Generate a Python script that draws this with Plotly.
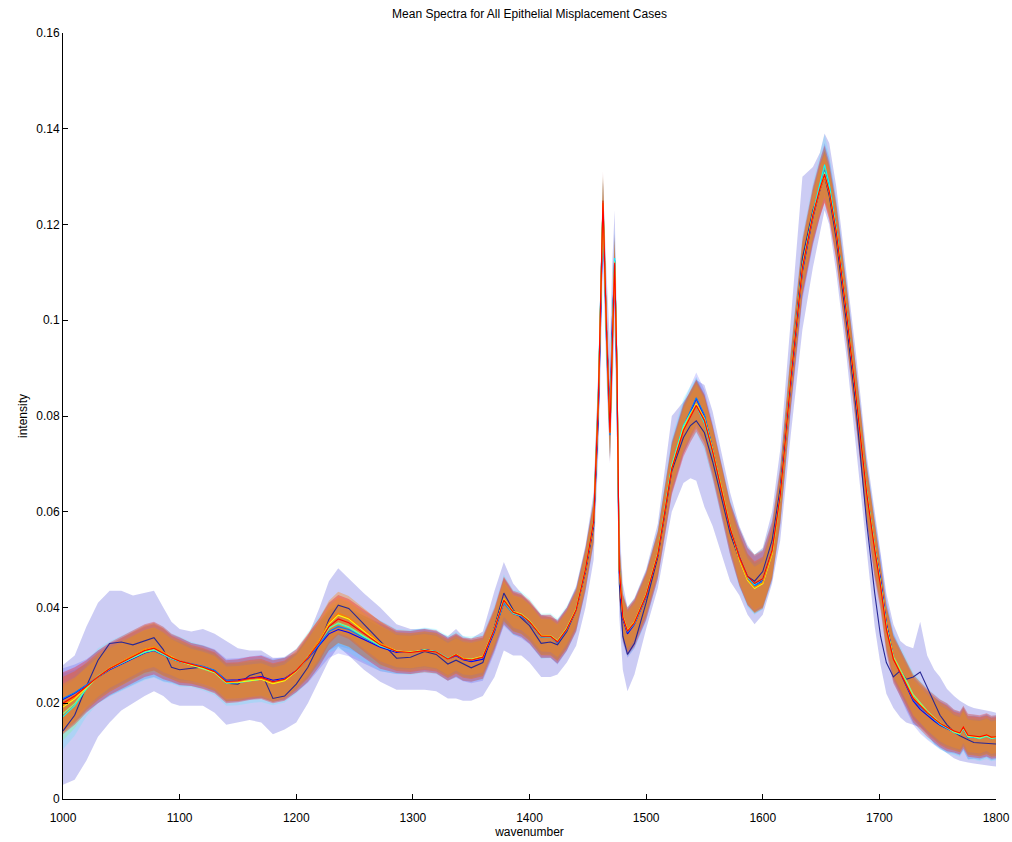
import plotly.graph_objects as go

# Wavenumber sampling (cm^-1); denser around the sharp 1460-1480 doublet
WAVENUMBER = [
    1000, 1010, 1020,
    1030, 1040, 1050, 1060, 1070, 1078, 1086, 1093, 1100,
    1110, 1120, 1130, 1140, 1150, 1160, 1170, 1180, 1190, 1200,
    1210, 1220, 1228, 1236, 1245, 1258, 1272,
    1286, 1298, 1310, 1320, 1330, 1337, 1343, 1350, 1360,
    1370, 1378, 1386, 1393, 1400, 1410, 1418, 1424, 1432, 1440, 1448, 1455,
    1459, 1461, 1463, 1466, 1469, 1471, 1473, 1475, 1477,
    1480, 1484, 1490, 1500, 1510,
    1522, 1532, 1538, 1543, 1550, 1557, 1565, 1572,
    1580, 1587, 1593, 1600, 1608, 1615,
    1624, 1634, 1643, 1649, 1653, 1657, 1663, 1672, 1680, 1689, 1696,
    1701, 1706, 1712, 1718, 1723, 1729, 1735, 1741, 1747, 1752, 1758,
    1764, 1769, 1772, 1776, 1781, 1786, 1792, 1796, 1800,
]

# Mean spectrum of the red case (reference level for the other cases)
MEAN_RED = [
    0.0200, 0.0215, 0.0235,
    0.0255, 0.0272, 0.0285, 0.0298, 0.0310, 0.0315, 0.0305, 0.0295, 0.0288,
    0.0281, 0.0275, 0.0266, 0.0245, 0.0247, 0.0252, 0.0254, 0.0245, 0.0250, 0.0268,
    0.0295, 0.0328, 0.0360, 0.0376, 0.0368, 0.0345, 0.0322,
    0.0308, 0.0306, 0.0310, 0.0307, 0.0292, 0.0301, 0.0292, 0.0290, 0.0296,
    0.0355, 0.0415, 0.0390, 0.0384, 0.0370, 0.0340, 0.0340, 0.0328, 0.0355, 0.0395, 0.0480, 0.0580,
    0.0830, 0.1040, 0.1250, 0.0980, 0.0765, 0.0950, 0.1120, 0.0900, 0.0480,
    0.0380, 0.0350, 0.0368, 0.0425, 0.0510,
    0.0690, 0.0770, 0.0800, 0.0822, 0.0790, 0.0725, 0.0640, 0.0565,
    0.0505, 0.0465, 0.0450, 0.0460, 0.0520, 0.0635,
    0.0875, 0.1110, 0.1220, 0.1275, 0.1305, 0.1270, 0.1185, 0.1010, 0.0840, 0.0640, 0.0520,
    0.0445, 0.0355, 0.0292, 0.0263, 0.0240, 0.0210, 0.0195, 0.0180, 0.0168, 0.0158, 0.0150,
    0.0142, 0.0138, 0.0150, 0.0133, 0.0132, 0.0130, 0.0134, 0.0129, 0.0130,
]

# Navy case: its own mean and its (wider) band limits
MEAN_NAVY = [
    0.0142, 0.0175, 0.0235,
    0.0290, 0.0325, 0.0328, 0.0322, 0.0330, 0.0337, 0.0312, 0.0275, 0.0270,
    0.0273, 0.0276, 0.0268, 0.0242, 0.0240, 0.0258, 0.0265, 0.0210, 0.0215, 0.0240,
    0.0275, 0.0325, 0.0375, 0.0405, 0.0398, 0.0365, 0.0330,
    0.0294, 0.0296, 0.0308, 0.0302, 0.0282, 0.0290, 0.0282, 0.0274, 0.0285,
    0.0360, 0.0430, 0.0395, 0.0378, 0.0362, 0.0325, 0.0328, 0.0322, 0.0350, 0.0395, 0.0475, 0.0570,
    0.0800, 0.1000, 0.1230, 0.0980, 0.0800, 0.1000, 0.1100, 0.0850, 0.0450,
    0.0340, 0.0302, 0.0325, 0.0410, 0.0505,
    0.0685, 0.0755, 0.0780, 0.0790, 0.0765, 0.0705, 0.0625, 0.0555,
    0.0500, 0.0465, 0.0455, 0.0475, 0.0540, 0.0650,
    0.0880, 0.1130, 0.1230, 0.1270, 0.1300, 0.1260, 0.1170, 0.0990, 0.0815, 0.0580, 0.0430,
    0.0340, 0.0285, 0.0255, 0.0268, 0.0250, 0.0255, 0.0265, 0.0232, 0.0200, 0.0175, 0.0155,
    0.0140, 0.0132, 0.0128, 0.0124, 0.0118, 0.0117, 0.0116, 0.0115, 0.0115,
]

UPPER_NAVY = [
    0.0280, 0.0300, 0.0360,
    0.0410, 0.0435, 0.0435, 0.0425, 0.0430, 0.0435, 0.0400, 0.0370, 0.0355,
    0.0350, 0.0355, 0.0345, 0.0330, 0.0315, 0.0310, 0.0310, 0.0295, 0.0295, 0.0305,
    0.0340, 0.0400, 0.0455, 0.0482, 0.0460, 0.0430, 0.0400,
    0.0365, 0.0355, 0.0355, 0.0350, 0.0340, 0.0355, 0.0340, 0.0335, 0.0350,
    0.0435, 0.0495, 0.0450, 0.0430, 0.0410, 0.0385, 0.0380, 0.0375, 0.0400, 0.0445, 0.0530, 0.0640,
    0.0900, 0.1120, 0.1290, 0.1100, 0.0950, 0.1120, 0.1230, 0.1000, 0.0580,
    0.0450, 0.0400, 0.0420, 0.0480, 0.0575,
    0.0800, 0.0830, 0.0850, 0.0875, 0.0865, 0.0810, 0.0720, 0.0640,
    0.0570, 0.0530, 0.0510, 0.0525, 0.0600, 0.0730,
    0.1000, 0.1300, 0.1320, 0.1350, 0.1390, 0.1370, 0.1280, 0.1100, 0.0930, 0.0720, 0.0600,
    0.0510, 0.0430, 0.0365, 0.0330, 0.0320, 0.0315, 0.0370, 0.0300, 0.0270, 0.0255, 0.0230,
    0.0215, 0.0205, 0.0200, 0.0195, 0.0190, 0.0188, 0.0185, 0.0183, 0.0180,
]

LOWER_NAVY = [
    0.0030, 0.0040, 0.0080,
    0.0130, 0.0160, 0.0185, 0.0200, 0.0215, 0.0225, 0.0215, 0.0200, 0.0195,
    0.0195, 0.0195, 0.0180, 0.0155, 0.0160, 0.0165, 0.0160, 0.0135, 0.0145, 0.0160,
    0.0200, 0.0250, 0.0290, 0.0318, 0.0300, 0.0270, 0.0245,
    0.0228, 0.0228, 0.0228, 0.0225, 0.0210, 0.0210, 0.0205, 0.0205, 0.0215,
    0.0255, 0.0310, 0.0300, 0.0300, 0.0285, 0.0255, 0.0255, 0.0260, 0.0285, 0.0320, 0.0400, 0.0500,
    0.0720, 0.0900, 0.1120, 0.0880, 0.0700, 0.0850, 0.0980, 0.0750, 0.0380,
    0.0270, 0.0225, 0.0260, 0.0355, 0.0440,
    0.0600, 0.0660, 0.0670, 0.0665, 0.0610, 0.0570, 0.0510, 0.0455,
    0.0425, 0.0385, 0.0365, 0.0385, 0.0450, 0.0540,
    0.0760, 0.0980, 0.1110, 0.1180, 0.1230, 0.1200, 0.1100, 0.0920, 0.0740, 0.0520, 0.0360,
    0.0280, 0.0220, 0.0190, 0.0170, 0.0160, 0.0155, 0.0150, 0.0135, 0.0115, 0.0105, 0.0095,
    0.0085, 0.0080, 0.0078, 0.0076, 0.0074, 0.0072, 0.0070, 0.0069, 0.0068,
]

# Standard deviation profile shared by the remaining cases
BAND_HALF_WIDTH = [
    0.0065, 0.0060, 0.0055,
    0.0055, 0.0055, 0.0055, 0.0055, 0.0055, 0.0055, 0.0055, 0.0050, 0.0050,
    0.0045, 0.0045, 0.0045, 0.0045, 0.0045, 0.0045, 0.0045, 0.0045, 0.0045, 0.0045,
    0.0050, 0.0050, 0.0050, 0.0050, 0.0050, 0.0050, 0.0050,
    0.0045, 0.0045, 0.0045, 0.0045, 0.0045, 0.0045, 0.0045, 0.0045, 0.0045,
    0.0045, 0.0050, 0.0045, 0.0045, 0.0045, 0.0045, 0.0045, 0.0045, 0.0045, 0.0045, 0.0045, 0.0045,
    0.0060, 0.0060, 0.0060, 0.0060, 0.0060, 0.0060, 0.0060, 0.0060, 0.0060,
    0.0050, 0.0050, 0.0050, 0.0050, 0.0050,
    0.0055, 0.0055, 0.0055, 0.0055, 0.0055, 0.0055, 0.0055, 0.0055,
    0.0060, 0.0060, 0.0060, 0.0060, 0.0060, 0.0060,
    0.0060, 0.0060, 0.0060, 0.0060, 0.0060, 0.0060, 0.0060, 0.0060, 0.0060, 0.0060, 0.0060,
    0.0050, 0.0050, 0.0050, 0.0050, 0.0050, 0.0050, 0.0050, 0.0050, 0.0050, 0.0050, 0.0050,
    0.0045, 0.0045, 0.0045, 0.0045, 0.0045, 0.0045, 0.0045, 0.0045, 0.0045,
]

# Per-case deviation from the red mean, in units of 1e-4 intensity
OFFSET_BLUE = [
    8, 6, 2,
    0, -2, -3, -4, -5, -5, -4, -2, -1,
    0, 1, 2, 3, 2, 1, 2, 3, 2, 0,
    -2, -6, -15, -22, -20, -12, -5,
    -2, 0, 2, 1, 0, -2, -1, -3, -4,
    -5, -3, -2, -3, -2, -1, 0, -2, -1, 0, -2, -3,
    -20, -20, -15, 0, 10, 15, 5, -10, -5,
    -4, -5, -3, -2, 0,
    3, 5, 10, 14, 10, 6, 3, 2,
    0, -2, -3, -3, -4, -6,
    -10, -8, -5, 0, 5, 10, 8, 6, 5, 4, 6,
    15, 12, 5, 0, -5, -5, -8, -6, -5, -4, -3,
    -2, -2, -3, -5, -3, -3, -2, -3, -2,
]

OFFSET_AZURE = [
    10, 7, 3,
    0, -1, -2, -2, -3, -3, -2, -1, 0,
    1, 2, 3, 2, 0, -2, -1, 0, 1, 0,
    -1, -4, -10, -16, -14, -8, -3,
    0, 1, 1, 0, 1, 0, 0, -1, 0,
    -3, -6, -3, -2, -1, -2, -1, -2, -2, 0, 1, 2,
    5, 10, -10, -20, -5, 10, 5, 0, 5,
    0, -2, -2, -1, 1,
    5, 8, 12, 16, 12, 8, 5, 3,
    -2, -3, -5, -6, -5, -3,
    -5, -5, 0, 5, 8, 6, 4, 2, 2, 3, 4,
    5, 5, 3, 2, 0, -2, -3, -2, -2, -2, -1,
    -1, -2, -1, -3, -2, -1, -2, -1, -1,
]

OFFSET_CYAN = [
    -28, -20, -5,
    2, 0, -2, -3, -4, -4, -3, -2, -1,
    0, -1, -2, -3, -4, -5, -4, -2, -1, -1,
    2, 3, -2, -10, -10, -6, -2,
    0, 0, 1, 1, 2, 1, 2, 2, 1,
    3, 2, 0, 2, 2, 0, 1, 2, 2, 1, 0, 0,
    5, 5, -5, -5, 5, 10, 10, -5, 0,
    1, 0, -1, 0, 2,
    8, 10, 5, 0, -5, -3, 0, 2,
    -2, -2, -2, -1, 0, 1,
    5, 5, 5, 10, 20, 15, 8, 5, 4, 5, 6,
    6, 5, 4, 3, 3, 2, 0, -1, -1, -2, -2,
    -3, -3, -3, -4, -3, -4, -3, -3, -2,
]

OFFSET_GREEN = [
    -22, -16, -4,
    1, 0, -1, -2, -3, -3, -2, -1, 0,
    -1, -2, -2, -2, -3, -2, -3, -3, -2, -1,
    0, 0, -4, -8, -8, -5, -2,
    1, 1, 1, 1, 0, 1, 1, 0, 0,
    0, -2, -2, -1, -1, -1, -1, 0, 0, 1, 0, 0,
    0, 0, 0, -3, 0, 5, 3, 0, 0,
    2, 1, 1, 2, 3,
    5, 6, 5, 3, 2, 3, 4, 3,
    -5, -8, -10, -9, -7, -5,
    3, 3, 2, 3, 5, 4, 3, 3, 3, 4, 5,
    5, 5, 6, 7, 8, 8, 6, 4, 2, 1, 0,
    -2, -2, -2, -3, -2, -3, -2, -2, -2,
]

OFFSET_YELLOW = [
    -8, -6, -2,
    0, 1, 1, 1, 2, 2, 1, 1, 0,
    -1, -1, -1, -2, -3, -5, -4, -4, -3, -1,
    1, 4, 6, 8, 8, 6, 3,
    1, 1, 1, 0, 0, 1, 2, 2, 2,
    2, 3, 2, 2, 2, 2, 1, 2, 2, 2, 1, 1,
    0, 0, -5, -5, 0, 5, 0, 0, 0,
    2, 2, 2, 2, 2,
    2, 3, 3, 3, 5, 6, 6, 4,
    -6, -8, -10, -10, -8, -5,
    0, 1, 0, 0, -3, 0, 2, 2, 2, 3, 4,
    4, 4, 3, 3, 2, 2, 2, 1, 1, 0, 0,
    -1, -1, 0, -1, -1, -1, 0, -1, 0,
]

OFFSET_ORANGE = [
    -3, -2, 0,
    1, 1, 2, 2, 3, 3, 2, 1, 0,
    0, 0, 0, -1, -2, -2, -2, -2, -1, 0,
    2, 5, 9, 12, 11, 8, 4,
    0, 0, 0, 0, 1, 1, 2, 1, 1,
    1, 2, 1, 1, 1, 1, 0, 1, 0, 0, 0, -1,
    -5, -5, -5, 0, 0, 0, -5, 0, 0,
    1, 1, 1, 1, 1,
    0, 1, 2, 1, 3, 4, 4, 3,
    -4, -6, -8, -8, -6, -4,
    -2, -2, -2, -3, -5, -3, -2, -1, 0, 1, 2,
    2, 2, 2, 2, 1, 1, 1, 1, 0, 0, 0,
    0, 0, 0, 0, 0, 0, 0, 0, 0,
]

CASE_NAMES = ["navy", "blue", "azure", "cyan", "green", "yellow", "orange", "red"]
CASE_RGB = [
    (0, 0, 143), (0, 0, 255), (0, 128, 255), (0, 255, 255),
    (128, 255, 128), (255, 255, 0), (255, 128, 0), (255, 0, 0),
]
# Relative standard deviation of each case against the shared profile
CASE_SPREAD = [None, 1.0, 0.8, 1.05, 0.85, 0.75, 0.9, 1.0]
# Fill opacity of each case's band
CASE_FILL_ALPHA = [0.2, 0.15, 0.15, 0.15, 0.3, 0.3, 0.35, 0.3]

n = len(WAVENUMBER)
for arr in (MEAN_RED, MEAN_NAVY, UPPER_NAVY, LOWER_NAVY, BAND_HALF_WIDTH,
            OFFSET_BLUE, OFFSET_AZURE, OFFSET_CYAN, OFFSET_GREEN,
            OFFSET_YELLOW, OFFSET_ORANGE):
    assert len(arr) == n, len(arr)

offsets = {
    "blue": OFFSET_BLUE,
    "azure": OFFSET_AZURE,
    "cyan": OFFSET_CYAN,
    "green": OFFSET_GREEN,
    "yellow": OFFSET_YELLOW,
    "orange": OFFSET_ORANGE,
    "red": [0] * n,
}

# Mean and band of every case
cases = []
for i, name in enumerate(CASE_NAMES):
    if name == "navy":
        cases.append((name, MEAN_NAVY, UPPER_NAVY, LOWER_NAVY))
        continue
    k = CASE_SPREAD[i]
    mean = [m + o * 1e-4 for m, o in zip(MEAN_RED, offsets[name])]
    upper = [m + k * h for m, h in zip(mean, BAND_HALF_WIDTH)]
    lower = [m - k * h for m, h in zip(mean, BAND_HALF_WIDTH)]
    cases.append((name, mean, upper, lower))

fig = go.Figure()

# Shaded bands first
for i, (name, mean, upper, lower) in enumerate(cases):
    r, g, b = CASE_RGB[i]
    if name == "navy":
        r, g, b = 0, 0, 200
    fig.add_trace(go.Scatter(
        x=WAVENUMBER + WAVENUMBER[::-1],
        y=upper + lower[::-1],
        fill="toself",
        fillcolor=f"rgba({r},{g},{b},{CASE_FILL_ALPHA[i]})",
        line=dict(width=0),
        mode="lines",
        hoverinfo="skip",
        showlegend=False,
    ))

# Mean spectra on top
for i, (name, mean, upper, lower) in enumerate(cases):
    r, g, b = CASE_RGB[i]
    col = "rgb(40,40,150)" if name == "navy" else f"rgb({r},{g},{b})"
    fig.add_trace(go.Scatter(
        x=WAVENUMBER,
        y=mean,
        mode="lines",
        line=dict(color=col, width=1.1),
        name=name,
        showlegend=False,
    ))

axis_font = dict(family="Liberation Sans, Arial, sans-serif", size=12, color="black")

fig.update_layout(
    width=1012,
    height=842,
    margin=dict(l=63, r=16, t=33, b=43),
    paper_bgcolor="white",
    plot_bgcolor="white",
    font=axis_font,
    title=dict(
        text="Mean Spectra for All Epithelial Misplacement Cases",
        x=0.5 * (63 + 996) / 1012,
        xanchor="center",
        y=1 - 14 / 842,
        yanchor="middle",
        font=dict(family="Liberation Sans, Arial, sans-serif", size=12, color="black"),
    ),
    showlegend=False,
    hovermode=False,
)

fig.update_xaxes(
    range=[1000, 1800],
    tickvals=[1000, 1100, 1200, 1300, 1400, 1500, 1600, 1700, 1800],
    ticks="inside",
    ticklen=5,
    tickcolor="black",
    ticklabelstandoff=8,
    showline=True,
    linecolor="black",
    linewidth=1,
    showgrid=False,
    zeroline=False,
    automargin=False,
    title=dict(text="wavenumber", standoff=3, font=axis_font),
    tickfont=axis_font,
)

fig.update_yaxes(
    range=[0, 0.16],
    tickvals=[0, 0.02, 0.04, 0.06, 0.08, 0.1, 0.12, 0.14, 0.16],
    ticktext=["0", "0.02", "0.04", "0.06", "0.08", "0.1", "0.12", "0.14", "0.16"],
    ticks="inside",
    ticklen=5,
    tickcolor="black",
    showline=True,
    linecolor="black",
    linewidth=1,
    showgrid=False,
    zeroline=False,
    automargin=False,
    title=dict(text="intensity", standoff=6, font=axis_font),
    tickfont=axis_font,
)

fig.write_html("out.html")
